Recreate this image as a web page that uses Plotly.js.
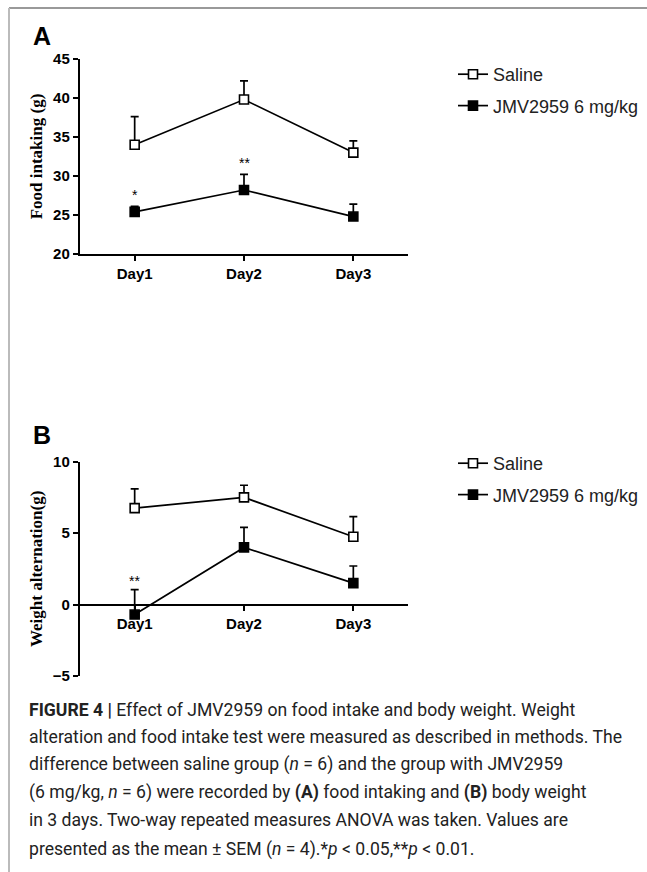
<!DOCTYPE html>
<html><head><meta charset="utf-8">
<script src="https://cdn.plot.ly/plotly-3.0.1.min.js"></script>
<style>html,body{margin:0;padding:0;background:#fff;}#plot{width:647px;height:872px;}</style>
</head><body><div id="plot"></div>
<script>
// ---- data ----
const days = ['Day1', 'Day2', 'Day3'];
const seriesNames = ['Saline', 'JMV2959 6 mg/kg'];
// Panel A: food intaking (g)
const foodSaline = [34.0, 39.8, 33.0];
const foodSalineErr = [3.6, 2.4, 1.5];
const foodJmv = [25.4, 28.2, 24.8];
const foodJmvErr = [0.7, 2.0, 1.6];
const foodSig = ['*', '**', ''];
// Panel B: weight alternation (g)
const weightSaline = [6.75, 7.5, 4.75];
const weightSalineErr = [1.35, 0.85, 1.4];
const weightJmv = [-0.7, 4.0, 1.5];
const weightJmvErr = [1.75, 1.4, 1.2];
const weightSig = ['**', '', ''];
const captionLines = [
  '<b>FIGURE 4 |</b> Effect of JMV2959 on food intake and body weight. Weight',
  'alteration and food intake test were measured as described in methods. The',
  'difference between saline group (<i>n</i> = 6) and the group with JMV2959',
  '(6 mg/kg, <i>n</i> = 6) were recorded by <b>(A)</b> food intaking and <b>(B)</b> body weight',
  'in 3 days. Two-way repeated measures ANOVA was taken. Values are',
  'presented as the mean ± SEM (<i>n</i> = 4).*<i>p</i> &lt; 0.05,**<i>p</i> &lt; 0.01.'
];

// ---- layout helpers (pixel -> paper) ----
const W = 647, H = 872;
const px = x => x / W;
const py = y => 1 - y / H;

const tickFont = {family: 'Liberation Sans, Arial, sans-serif', size: 15, color: '#000', weight: 'bold'};
const titleFont = {family: 'Liberation Serif, Times New Roman, serif', size: 17, color: '#000', weight: 'bold'};

function mk(x, y, err, name, filled, xa, ya, leg, grp) {
  return {
    type: 'scatter', mode: 'lines+markers', x: x, y: y, name: name,
    xaxis: xa, yaxis: ya, legend: leg, legendgroup: grp,
    line: {color: '#000', width: 1.7},
    marker: {symbol: 'square', size: 9, color: filled ? '#000' : '#fff', line: {color: '#000', width: 1.6}},
    error_y: {type: 'data', symmetric: false, array: err, arrayminus: err.map(() => 0), color: '#000', thickness: 1.7, width: 4}
  };
}

const traces = [
  mk(days, foodSaline, foodSalineErr, seriesNames[0], false, 'x', 'y', 'legend', 'a1'),
  mk(days, foodJmv, foodJmvErr, seriesNames[1], true, 'x', 'y', 'legend', 'a2'),
  mk(days, weightSaline, weightSalineErr, seriesNames[0], false, 'x2', 'y2', 'legend2', 'b1'),
  mk(days, weightJmv, weightJmvErr, seriesNames[1], true, 'x2', 'y2', 'legend2', 'b2')
];

const yA = [20, 45], yB = [-5, 10];
const domA = [py(254), py(59)];
const domB = [py(676), py(461.7)];
const zeroPos = domB[0] + (domB[1] - domB[0]) * (0 - yB[0]) / (yB[1] - yB[0]);

const axCommon = {
  showgrid: false, zeroline: false, showline: true, linecolor: '#000', linewidth: 2.2,
  ticks: 'outside', ticklen: 5, tickwidth: 2, tickcolor: '#000', tickfont: tickFont
};

const sigFont = {family: 'Liberation Sans, Arial', size: 14, color: '#000'};
const annotations = [];
foodSig.forEach((s, i) => { if (s) annotations.push({xref: 'x', yref: 'y', x: days[i], y: foodJmv[i] + foodJmvErr[i], text: s, showarrow: false, yanchor: 'bottom', yshift: 1, font: sigFont}); });
weightSig.forEach((s, i) => { if (s) annotations.push({xref: 'x2', yref: 'y2', x: days[i], y: weightJmv[i] + weightJmvErr[i], text: s, showarrow: false, yanchor: 'bottom', yshift: -1, font: sigFont}); });
annotations.push({xref: 'paper', yref: 'paper', x: px(31), y: py(36), xanchor: 'left', yanchor: 'middle', text: '<b>A</b>', showarrow: false, font: {family: 'Liberation Sans, Arial', size: 25, color: '#000'}});
annotations.push({xref: 'paper', yref: 'paper', x: px(31), y: py(435), xanchor: 'left', yanchor: 'middle', text: '<b>B</b>', showarrow: false, font: {family: 'Liberation Sans, Arial', size: 25, color: '#000'}});
const capY = [710, 737, 764, 792, 820, 849];
captionLines.forEach((t, i) => annotations.push({xref: 'paper', yref: 'paper', x: px(27), y: py(capY[i]), xanchor: 'left', yanchor: 'middle', align: 'left', text: t, showarrow: false, font: {family: 'Roboto, sans-serif', size: 17.6, color: '#222'}}));

const legFont = {family: 'Liberation Sans, Arial', size: 18, color: '#222'};
const layout = {
  width: W, height: H, margin: {l: 0, r: 0, t: 0, b: 0},
  paper_bgcolor: '#fff', plot_bgcolor: 'rgba(0,0,0,0)', showlegend: true,
  xaxis: Object.assign({}, axCommon, {domain: [px(80), px(408)], range: [-0.5, 2.5], anchor: 'y', type: 'category'}),
  yaxis: Object.assign({}, axCommon, {domain: domA, range: yA, dtick: 5, anchor: 'x',
    title: {text: 'Food intaking (g)', font: titleFont, standoff: 6}}),
  xaxis2: Object.assign({}, axCommon, {domain: [px(80), px(408)], range: [-0.5, 2.5], anchor: 'free', position: zeroPos, type: 'category'}),
  yaxis2: Object.assign({}, axCommon, {domain: domB, range: yB, dtick: 5, anchor: 'x2',
    title: {text: 'Weight alternation(g)', font: titleFont, standoff: 6}}),
  legend: {x: px(453), y: py(56), xanchor: 'left', yanchor: 'top', bgcolor: 'rgba(0,0,0,0)', traceorder: 'grouped', tracegroupgap: 5, font: legFont},
  legend2: {x: px(453), y: py(445), xanchor: 'left', yanchor: 'top', bgcolor: 'rgba(0,0,0,0)', traceorder: 'grouped', tracegroupgap: 5, font: legFont},
  annotations: annotations,
  shapes: [
    {type: 'line', xref: 'paper', yref: 'paper', x0: px(9), x1: 1, y0: py(8), y1: py(8), line: {color: '#777', width: 1.5}},
    {type: 'line', xref: 'paper', yref: 'paper', x0: px(9), x1: px(9), y0: py(8), y1: 0, line: {color: '#bbb', width: 2}}
  ]
};

Plotly.newPlot('plot', traces, layout, {displayModeBar: false, staticPlot: true});
</script></body></html>
